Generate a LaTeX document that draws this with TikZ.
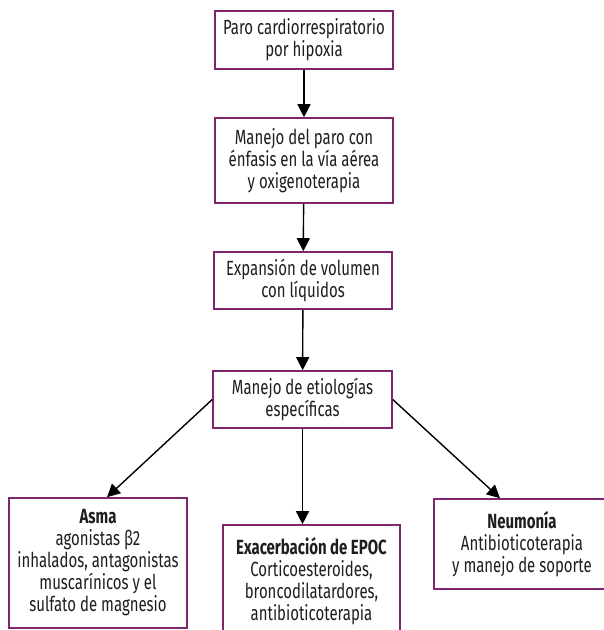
\documentclass[tikz,border=0pt]{standalone}
\usepackage{fontspec}
\setmainfont{Fira Sans}[FakeStretch=0.73]
\usetikzlibrary{arrows.meta}
\definecolor{boxc}{RGB}{128,38,108}
\definecolor{txt}{RGB}{30,30,30}
\begin{document}
\begin{tikzpicture}[x=1pt,y=-1pt,
  box/.style={draw=boxc, line width=1.6pt, fill=white, align=center, inner sep=0pt,
    font=\fontsize{20.5}{22}\selectfont, text=txt},
  arr/.style={-{Triangle[width=13pt,length=13pt]}, line width=1.4pt}]
\useasboundingbox (0,0) rectangle (604,630);
\node[box, minimum width=178pt, minimum height=58pt] (b1) at (304,40)
  {Paro cardiorrespiratorio\\por hipoxia};
\node[box, minimum width=178pt, minimum height=85pt] (b2) at (304,160.5)
  {Manejo del paro con\\énfasis en la vía aérea\\y oxigenoterapia};
\node[box, minimum width=178pt, minimum height=57pt] (b3) at (303,280.5)
  {Expansión de volumen\\con líquidos};
\node[box, minimum width=179pt, minimum height=57pt] (b4) at (302.5,399.5)
  {Manejo de etiologías\\específicas};
\node[box, minimum width=178pt, minimum height=130pt] (asma) at (98,563)
  {\textbf{Asma}\\agonistas β2\\inhalados, antagonistas\\muscarínicos y el\\sulfato de magnesio};
\node[box, minimum width=177pt, minimum height=112pt] (epoc) at (311.5,581)
  {\textbf{Exacerbación de EPOC}\\Corticoesteroides,\\broncodilatardores,\\antibioticoterapia};
\node[box, minimum width=176pt, minimum height=90pt] (neu) at (522,544)
  {\textbf{Neumonía}\\Antibioticoterapia\\y manejo de soporte};
\draw[arr] (b1) -- (b2);
\draw[arr] (b2) -- (b3);
\draw[arr] (b3) -- (b4);
\draw[arr] (b4.west) -- ([xshift=9pt]asma.north);
\draw[arr] (b4.south) -- (epoc.north -| b4.south);
\draw[arr] (b4.east) -- ([xshift=-22pt]neu.north);
\end{tikzpicture}
\end{document}
